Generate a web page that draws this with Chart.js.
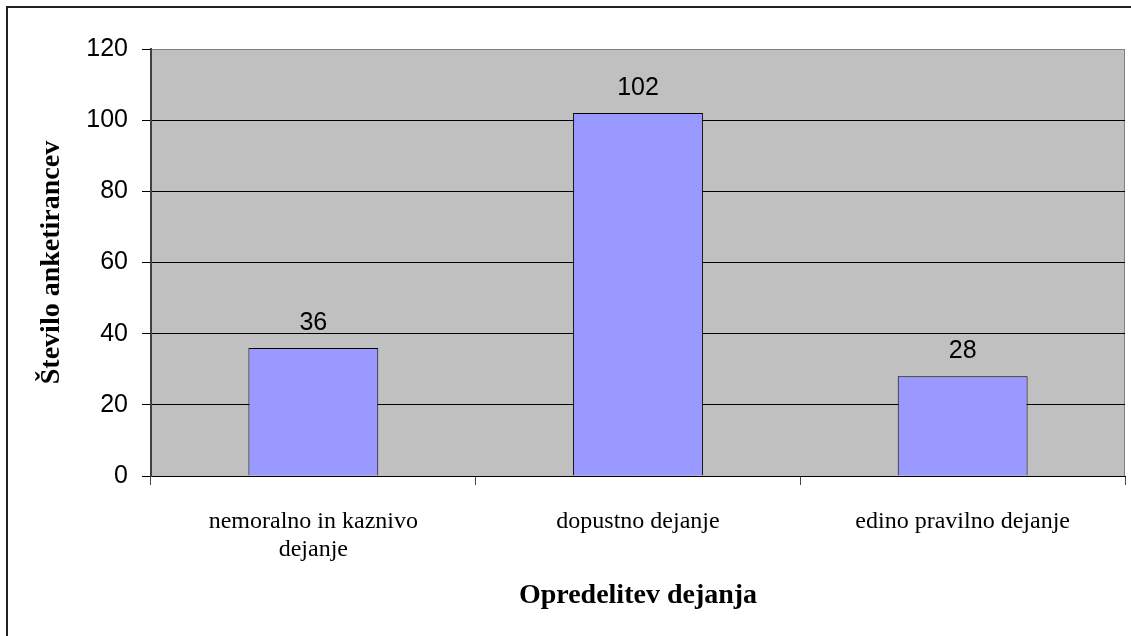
<!DOCTYPE html>
<html>
<head>
<meta charset="utf-8">
<script src="https://cdn.jsdelivr.net/npm/chart.js@4"></script>
<style>
  html, body { margin: 0; padding: 0; background: #fff; }
  #wrap { width: 1131px; height: 636px; }
</style>
</head>
<body>
<div id="wrap"><canvas id="chart" width="1131" height="636"></canvas></div>
<script>
const categories = [['nemoralno in kaznivo', 'dejanje'], 'dopustno dejanje', 'edino pravilno dejanje'];
const counts = [36, 102, 28];
const yTicks = [0, 20, 40, 60, 80, 100, 120];

const serif = "'Liberation Serif', 'Times New Roman', serif";
const sans = "'Liberation Sans', Arial, sans-serif";

// grey plot area, border and outer frame
const plotBg = {
    id: 'plotBg',
    beforeDraw(chart) {
        const { ctx, chartArea: a } = chart;
        ctx.save();
        ctx.fillStyle = '#C0C0C0';
        ctx.fillRect(a.left, a.top, a.right - a.left, a.bottom - a.top);
        ctx.strokeStyle = '#808080';
        ctx.lineWidth = 1;
        ctx.strokeRect(a.left + 0.5, a.top + 0.5, a.right - a.left - 1, a.bottom - a.top);
        ctx.restore();
    },
    afterDraw(chart) {
        const ctx = chart.ctx;
        ctx.save();
        ctx.strokeStyle = '#222';
        ctx.lineWidth = 2;
        ctx.beginPath();
        ctx.moveTo(7, 640);
        ctx.lineTo(7, 7);
        ctx.lineTo(1135, 7);
        ctx.stroke();
        ctx.restore();
    }
};

const valueLabels = {
    id: 'valueLabels',
    afterDatasetsDraw(chart) {
        const ctx = chart.ctx;
        const meta = chart.getDatasetMeta(0);
        ctx.save();
        ctx.font = '25px ' + sans;
        ctx.fillStyle = '#000';
        ctx.textAlign = 'center';
        ctx.textBaseline = 'middle';
        meta.data.forEach((bar, i) => {
            ctx.fillText(String(counts[i]), bar.x, bar.y - 25);
        });
        ctx.restore();
    }
};

new Chart(document.getElementById('chart'), {
    type: 'bar',
    data: {
        labels: categories,
        datasets: [{
            data: counts,
            backgroundColor: '#9999FF',
            borderColor: '#000',
            borderWidth: 1,
            categoryPercentage: 1,
            barPercentage: 0.4
        }]
    },
    plugins: [plotBg, valueLabels],
    options: {
        responsive: false,
        animation: false,
        layout: { padding: { left: 0, top: 49, right: 6, bottom: 0 } },
        plugins: {
            legend: { display: false },
            tooltip: { enabled: false }
        },
        scales: {
            x: {
                grid: {
                    offset: true,
                    drawOnChartArea: false,
                    tickLength: 9,
                    color: '#444'
                },
                border: { color: '#000', width: 1 },
                ticks: {
                    color: '#000',
                    font: { family: serif, size: 24, lineHeight: 1.17 },
                    padding: 23,
                    maxRotation: 0
                },
                title: {
                    display: true,
                    text: 'Opredelitev dejanja',
                    color: '#000',
                    font: { family: serif, size: 28, weight: 'bold' },
                    padding: { top: 0, bottom: 23 }
                },
                afterFit(scale) { scale.height = 160; }
            },
            y: {
                min: 0,
                max: 120,
                afterBuildTicks(scale) { scale.ticks = yTicks.map(v => ({ value: v })); },
                grid: {
                    color: ctx => (ctx.tick && ctx.tick.value === 120) ? '#808080' : '#000',
                    tickColor: '#000',
                    tickLength: 9,
                    lineWidth: 1
                },
                border: { color: '#404040', width: 2 },
                ticks: {
                    color: '#000',
                    font: { family: sans, size: 25 },
                    padding: 14
                },
                title: {
                    display: true,
                    text: 'Število anketirancev',
                    color: '#000',
                    font: { family: serif, size: 28, weight: 'bold' },
                    padding: { top: 35, bottom: 0 }
                },
                afterFit(scale) { scale.width = 151; }
            }
        }
    }
});
</script>
</body>
</html>
